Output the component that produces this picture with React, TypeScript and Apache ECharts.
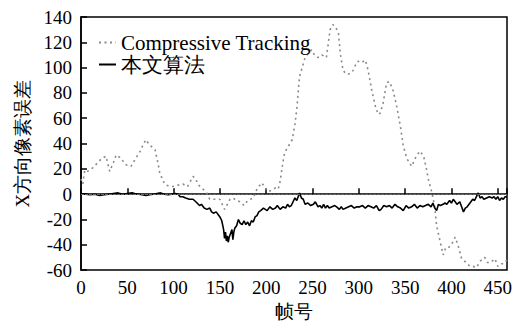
import React, { useEffect, useRef } from "react";
import * as echarts from "echarts";

const ctFrames = [0, 2, 4, 7, 13, 22, 27, 31, 35, 38, 42, 49, 54, 58, 64, 67, 70, 74, 80, 83, 85, 89, 92, 99, 104, 110, 115, 121, 124, 126, 130, 135, 139, 145, 150, 155, 158, 161, 164, 168, 172, 176, 180, 186, 190, 195, 199, 202, 206, 210, 213, 215, 218, 220, 224, 228, 231, 233, 235, 236, 238, 242, 246, 249, 252, 256, 260, 265, 269, 272, 275, 278, 280, 283, 286, 289, 292, 294, 297, 299, 303, 307, 310, 314, 318, 321, 323, 326, 330, 333, 337, 341, 345, 348, 352, 357, 362, 366, 370, 373, 375, 379, 382, 384, 388, 391, 394, 397, 400, 404, 407, 411, 416, 420, 423, 427, 431, 436, 439, 442, 447, 450, 453, 456, 460];
const ctValues = [12, 8, 19, 18, 21, 28, 30, 18, 25, 31, 29, 23, 22, 27, 34, 39, 43, 39, 35, 25, 17, 10, 7, 6, 7, 8, 6, 14, 12, 8, 5, 2, -4, -4, -4, -12, -8, -4, -3, -5, -6, -9, -5, -3, 4, 9, 5, 2, 3, 5, 4, 10, 25, 33, 38, 43, 55, 67, 85, 93, 98, 108, 112, 114, 110, 108, 110, 108, 130, 134, 132, 127, 111, 98, 95, 95, 96, 98, 103, 105, 104, 106, 98, 82, 69, 63, 64, 71, 88, 89, 82, 69, 53, 38, 28, 22, 30, 34, 30, 20, 12, 1, -10, -25, -38, -48, -42, -42, -40, -34, -40, -51, -54, -57, -57, -58, -53, -50, -54, -54, -51, -57, -55, -55, -52];

const ourFrames = [0, 5, 10, 15, 20, 25, 30, 35, 40, 45, 50, 55, 58, 62, 66, 70, 74, 78, 82, 86, 90, 94, 98, 102, 105, 107, 110, 113, 117, 121, 124, 128, 130, 133, 136, 139, 141, 143, 146, 148, 150, 152, 154, 155, 156, 157, 158, 159, 160, 161, 163, 164, 165, 166, 168, 170, 172, 174, 176, 178, 180, 182, 184, 186, 188, 190, 192, 194, 197, 199, 201, 204, 207, 210, 212, 215, 218, 221, 223, 225, 227, 229, 231, 233, 235, 236, 238, 240, 242, 245, 248, 251, 253, 256, 258, 260, 262, 264, 266, 268, 271, 274, 276, 279, 281, 283, 286, 289, 292, 295, 298, 301, 304, 307, 310, 313, 316, 319, 322, 324, 327, 330, 333, 336, 339, 342, 345, 348, 351, 354, 357, 360, 363, 366, 369, 372, 375, 378, 380, 382, 384, 386, 388, 391, 393, 395, 398, 400, 402, 404, 406, 409, 411, 413, 415, 417, 419, 421, 423, 425, 427, 429, 431, 433, 435, 438, 441, 444, 446, 448, 450, 452, 454, 456, 458, 460];
const ourValues = [0, 0, -0.5, 0, -1, -0.5, 0, 0.5, 1, 0, 0.5, 1, 0.5, 0, -0.5, -1, -0.5, 0, 0.5, 1, 0, -0.5, 0, 0.5, 0, -2, -2, -3, -4, -4, -6, -9, -8, -11, -12, -11, -14, -15, -14, -16, -18, -21, -28, -35, -30, -37, -33, -38, -34, -32, -28, -36, -30, -27, -25, -20, -23, -24, -21, -24, -22, -25, -21, -22, -18, -17, -14, -13, -11, -12, -13, -10, -12, -11, -9, -12, -10, -11, -8, -10, -9, -6, -3, -5, -1, 1, -3, -4, -8, -7, -9, -8, -6, -10, -9, -11, -8, -11, -9, -11, -10, -9, -10, -12, -10, -12, -11, -10, -9, -11, -10, -10, -9, -11, -9, -10, -11, -9, -13, -12, -9, -10, -9, -11, -8, -10, -11, -13, -9, -11, -10, -8, -11, -9, -10, -9, -8, -10, -7, -11, -13, -8, -9, -8, -7, -8, -5, -7, -4, -6, -8, -6, -10, -14, -11, -10, -8, -6, -4, -5, -2, 1, -3, -2, -4, -3, -2, -3, -2, -4, -2, -5, -3, -4, -2, -2];

const xTicks = [0, 50, 100, 150, 200, 250, 300, 350, 400, 450];
const yTicks = [-60, -40, -20, 0, 20, 40, 60, 80, 100, 120, 140];

const seriesNames = ["Compressive Tracking", "本文算法"];
const xName = "帧号";
const yName = "X方向像素误差";

const FONT = "Liberation Serif";

export default function App() {
  const ref = useRef<HTMLDivElement>(null);
  useEffect(() => {
    if (!ref.current) return;
    const chart = echarts.init(ref.current, undefined, { renderer: "svg" });
    const ct = ctFrames.map((f, i) => [f, ctValues[i]]);
    const ours = ourFrames.map((f, i) => [f, ourValues[i]]);
    chart.setOption({
      animation: false,
      textStyle: { fontFamily: FONT },
      grid: {
        left: 81,
        right: 12,
        top: 17,
        bottom: 55,
        show: true,
        borderColor: "#000",
        borderWidth: 1.5,
      },
      legend: {
        orient: "vertical",
        left: 93,
        top: 27,
        itemWidth: 17,
        itemHeight: 10,
        itemGap: 1,
        data: seriesNames,
        itemStyle: { opacity: 0 },
        textStyle: { fontFamily: FONT, fontSize: 21, color: "#000" },
      },
      xAxis: {
        type: "value",
        min: 0,
        max: 460,
        interval: 50,
        name: xName,
        nameLocation: "middle",
        nameGap: 27,
        nameTextStyle: { fontFamily: FONT, fontSize: 19, color: "#000" },
        axisLine: { show: true, lineStyle: { color: "#000", width: 1.5 } },
        axisTick: { show: true, inside: true, length: 6, lineStyle: { color: "#000", width: 1.5 } },
        axisLabel: {
          fontFamily: FONT,
          fontSize: 19,
          color: "#000",
          margin: 8,
          formatter: (v: number) => (xTicks.includes(v) ? String(v) : ""),
        },
        splitLine: { show: false },
      },
      yAxis: {
        type: "value",
        min: -60,
        max: 140,
        interval: 20,
        name: yName,
        nameLocation: "middle",
        nameGap: 49,
        nameRotate: 90,
        nameTextStyle: { fontFamily: FONT, fontSize: 19, color: "#000" },
        axisLine: { show: true, lineStyle: { color: "#000", width: 1.5 } },
        axisTick: { show: true, inside: true, length: 6, lineStyle: { color: "#000", width: 1.5 } },
        axisLabel: {
          fontFamily: FONT,
          fontSize: 19,
          color: "#000",
          margin: 9,
          formatter: (v: number) => (yTicks.includes(v) ? String(v) : ""),
        },
        splitLine: { show: false },
      },
      series: [
        {
          name: seriesNames[0],
          type: "line",
          data: ct,
          showSymbol: false,
          symbol: "none",
          lineStyle: { color: "#8a8a8a", width: 1.6, type: [2, 3.5] },
          itemStyle: { color: "#8a8a8a" },
          z: 2,
        },
        {
          name: seriesNames[1],
          type: "line",
          data: ours,
          showSymbol: false,
          symbol: "none",
          lineStyle: { color: "#000", width: 1.6 },
          itemStyle: { color: "#000" },
          z: 3,
          markLine: {
            silent: true,
            symbol: "none",
            label: { show: false },
            lineStyle: { color: "#666", width: 1.2, type: [3, 1] },
            data: [{ yAxis: 0 }],
          },
        },
      ],
    });
    return () => chart.dispose();
  }, []);
  return <div ref={ref} style={{ position: "absolute", left: 0, top: 0, width: 519, height: 326 }} />;
}
